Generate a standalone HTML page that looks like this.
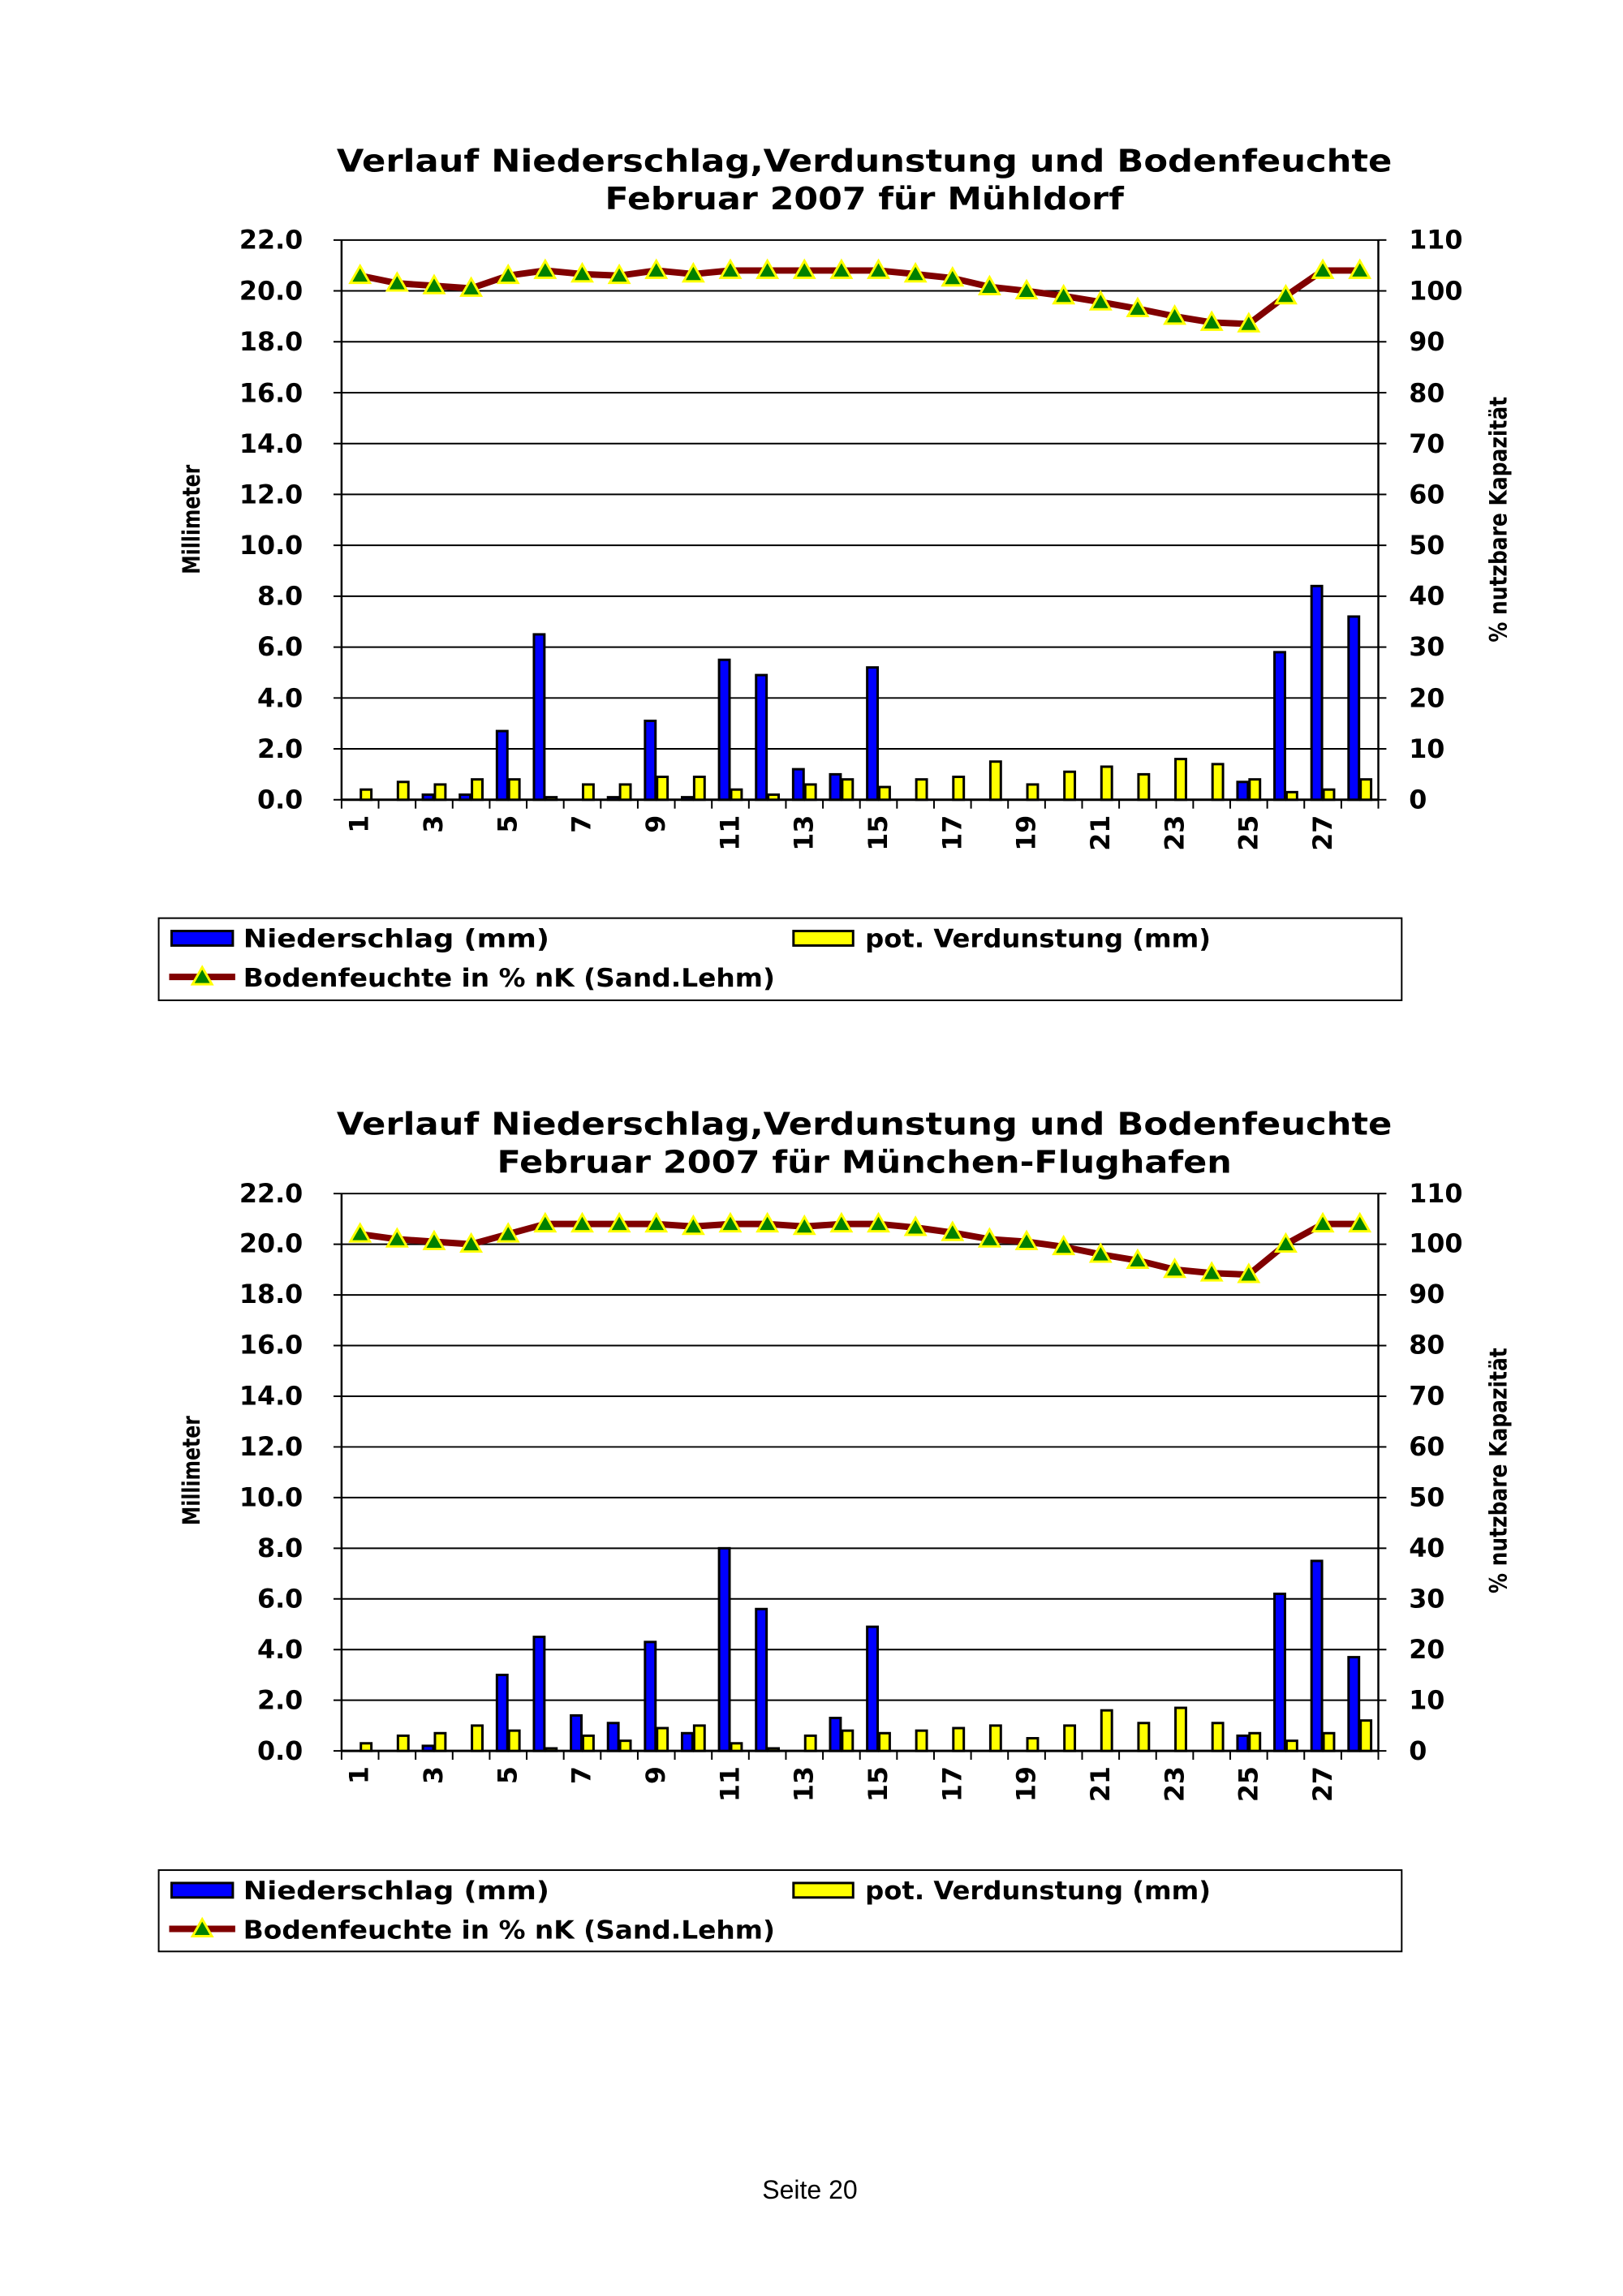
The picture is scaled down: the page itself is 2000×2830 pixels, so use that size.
<!DOCTYPE html>
<html><head><meta charset="utf-8"><style>
html,body{margin:0;padding:0;background:#fff}
svg{display:block}
text{font-family:"DejaVu Sans","Liberation Sans",sans-serif;font-weight:bold;fill:#000}
</style></head><body>
<svg id="s" width="2000" height="2830" viewBox="0 0 2000 2830" xmlns="http://www.w3.org/2000/svg">
<g transform="scale(0.9927)">
<g id="g1"></g>
<!-- Chart 1 text -->
<text x="1073" y="213" font-size="39" text-anchor="middle" textLength="1310" lengthAdjust="spacingAndGlyphs">Verlauf Niederschlag,Verdunstung und Bodenfeuchte</text>
<text x="1073" y="260" font-size="39" text-anchor="middle" textLength="644" lengthAdjust="spacingAndGlyphs">Februar 2007 für Mühldorf</text>
<g font-size="32" text-anchor="end">
<text x="376" y="1004">0.0</text><text x="376" y="941">2.0</text><text x="376" y="878">4.0</text><text x="376" y="814">6.0</text><text x="376" y="751">8.0</text><text x="376" y="688">10.0</text><text x="376" y="625">12.0</text><text x="376" y="562">14.0</text><text x="376" y="499">16.0</text><text x="376" y="435">18.0</text><text x="376" y="372">20.0</text><text x="376" y="309">22.0</text>
</g>
<g font-size="32" text-anchor="start">
<text x="1749" y="1004">0</text><text x="1749" y="941">10</text><text x="1749" y="878">20</text><text x="1749" y="814">30</text><text x="1749" y="751">40</text><text x="1749" y="688">50</text><text x="1749" y="625">60</text><text x="1749" y="562">70</text><text x="1749" y="499">80</text><text x="1749" y="435">90</text><text x="1749" y="372">100</text><text x="1749" y="309">110</text>
</g>
<text transform="translate(248,645) rotate(-90)" font-size="30" text-anchor="middle" textLength="136" lengthAdjust="spacingAndGlyphs">Millimeter</text>
<text transform="translate(1870,645) rotate(-90)" font-size="30" text-anchor="middle" textLength="305" lengthAdjust="spacingAndGlyphs">% nutzbare Kapazität</text>
<g font-size="32" text-anchor="end">
<text transform="translate(457,1012) rotate(-90)">1</text>
<text transform="translate(549,1012) rotate(-90)">3</text>
<text transform="translate(641,1012) rotate(-90)">5</text>
<text transform="translate(733,1012) rotate(-90)">7</text>
<text transform="translate(825,1012) rotate(-90)">9</text>
<text transform="translate(917,1012) rotate(-90)">11</text>
<text transform="translate(1009,1012) rotate(-90)">13</text>
<text transform="translate(1101,1012) rotate(-90)">15</text>
<text transform="translate(1193,1012) rotate(-90)">17</text>
<text transform="translate(1285,1012) rotate(-90)">19</text>
<text transform="translate(1377,1012) rotate(-90)">21</text>
<text transform="translate(1469,1012) rotate(-90)">23</text>
<text transform="translate(1561,1012) rotate(-90)">25</text>
<text transform="translate(1653,1012) rotate(-90)">27</text>
</g>
<rect x="197" y="1140" width="1543" height="102" fill="none" stroke="#000" stroke-width="2"/>
<rect x="213" y="1156" width="76" height="18" fill="#0000ff" stroke="#000" stroke-width="3"/>
<text x="302" y="1176" font-size="31" textLength="380" lengthAdjust="spacingAndGlyphs">Niederschlag (mm)</text>
<rect x="985" y="1156" width="74" height="18" fill="#ffff00" stroke="#000" stroke-width="3"/>
<text x="1074" y="1176" font-size="31" textLength="429" lengthAdjust="spacingAndGlyphs">pot. Verdunstung (mm)</text>
<line x1="210" y1="1213" x2="292" y2="1213" stroke="#800000" stroke-width="8"/>
<polygon points="251,1201 263,1222 239,1222" fill="#008000" stroke="#ffff00" stroke-width="3"/>
<text x="302" y="1225" font-size="31" textLength="660" lengthAdjust="spacingAndGlyphs">Bodenfeuchte in % nK (Sand.Lehm)</text>

<!-- Chart 2 text -->
<text x="1073" y="1409" font-size="39" text-anchor="middle" textLength="1310" lengthAdjust="spacingAndGlyphs">Verlauf Niederschlag,Verdunstung und Bodenfeuchte</text>
<text x="1073" y="1456" font-size="39" text-anchor="middle" textLength="912" lengthAdjust="spacingAndGlyphs">Februar 2007 für München-Flughafen</text>
<g font-size="32" text-anchor="end">
<text x="376" y="2185">0.0</text><text x="376" y="2122">2.0</text><text x="376" y="2059">4.0</text><text x="376" y="1996">6.0</text><text x="376" y="1933">8.0</text><text x="376" y="1870">10.0</text><text x="376" y="1807">12.0</text><text x="376" y="1744">14.0</text><text x="376" y="1681">16.0</text><text x="376" y="1618">18.0</text><text x="376" y="1555">20.0</text><text x="376" y="1493">22.0</text>
</g>
<g font-size="32" text-anchor="start">
<text x="1749" y="2185">0</text><text x="1749" y="2122">10</text><text x="1749" y="2059">20</text><text x="1749" y="1996">30</text><text x="1749" y="1933">40</text><text x="1749" y="1870">50</text><text x="1749" y="1807">60</text><text x="1749" y="1744">70</text><text x="1749" y="1681">80</text><text x="1749" y="1618">90</text><text x="1749" y="1555">100</text><text x="1749" y="1493">110</text>
</g>
<text transform="translate(248,1826) rotate(-90)" font-size="30" text-anchor="middle" textLength="136" lengthAdjust="spacingAndGlyphs">Millimeter</text>
<text transform="translate(1870,1826) rotate(-90)" font-size="30" text-anchor="middle" textLength="305" lengthAdjust="spacingAndGlyphs">% nutzbare Kapazität</text>
<g font-size="32" text-anchor="end">
<text transform="translate(457,2193) rotate(-90)">1</text>
<text transform="translate(549,2193) rotate(-90)">3</text>
<text transform="translate(641,2193) rotate(-90)">5</text>
<text transform="translate(733,2193) rotate(-90)">7</text>
<text transform="translate(825,2193) rotate(-90)">9</text>
<text transform="translate(917,2193) rotate(-90)">11</text>
<text transform="translate(1009,2193) rotate(-90)">13</text>
<text transform="translate(1101,2193) rotate(-90)">15</text>
<text transform="translate(1193,2193) rotate(-90)">17</text>
<text transform="translate(1285,2193) rotate(-90)">19</text>
<text transform="translate(1377,2193) rotate(-90)">21</text>
<text transform="translate(1469,2193) rotate(-90)">23</text>
<text transform="translate(1561,2193) rotate(-90)">25</text>
<text transform="translate(1653,2193) rotate(-90)">27</text>
</g>
<rect x="197" y="2322" width="1543" height="101" fill="none" stroke="#000" stroke-width="2"/>
<rect x="213" y="2338" width="76" height="18" fill="#0000ff" stroke="#000" stroke-width="3"/>
<text x="302" y="2358" font-size="31" textLength="380" lengthAdjust="spacingAndGlyphs">Niederschlag (mm)</text>
<rect x="985" y="2338" width="74" height="18" fill="#ffff00" stroke="#000" stroke-width="3"/>
<text x="1074" y="2358" font-size="31" textLength="429" lengthAdjust="spacingAndGlyphs">pot. Verdunstung (mm)</text>
<line x1="210" y1="2395" x2="292" y2="2395" stroke="#800000" stroke-width="8"/>
<polygon points="251,2383 263,2404 239,2404" fill="#008000" stroke="#ffff00" stroke-width="3"/>
<text x="302" y="2407" font-size="31" textLength="660" lengthAdjust="spacingAndGlyphs">Bodenfeuchte in % nK (Sand.Lehm)</text>
</g>
<text x="998" y="2710" font-size="32" style="font-weight:normal;font-family:'Liberation Sans',sans-serif" text-anchor="middle">Seite 20</text>
</svg>
<script>
var NS="http://www.w3.org/2000/svg",G=document.getElementById("g1");
function el(t,a){var e=document.createElementNS(NS,t);for(var k in a)e.setAttribute(k,a[k]);G.appendChild(e);return e;}
function chart(top,bot,N,V,B){
 var L=424,R=1711,W=(R-L)/28,sc=(bot-top)/22;
 for(var i=0;i<=11;i++){var y=bot-i*2*sc;el("line",{x1:L-10,y1:y,x2:R,y2:y,stroke:"#000","stroke-width":2});el("line",{x1:R,y1:y,x2:R+10,y2:y,stroke:"#000","stroke-width":2});}
 el("line",{x1:L,y1:top,x2:L,y2:bot,stroke:"#000","stroke-width":2.5});
 el("line",{x1:R,y1:top,x2:R,y2:bot,stroke:"#000","stroke-width":2.5});
 el("line",{x1:L,y1:bot,x2:R,y2:bot,stroke:"#000","stroke-width":3});
 for(var i=0;i<=28;i++){var x=L+i*W;el("line",{x1:x,y1:bot,x2:x,y2:bot+11,stroke:"#000","stroke-width":2});}
 for(var d=0;d<28;d++){var c=L+(d+0.5)*W;
  if(N[d]>0){var h=N[d]*sc;el("rect",{x:c-14,y:bot-h,width:13,height:h,fill:"#0000ff",stroke:"#000","stroke-width":3});}
  if(V[d]>0){var h=V[d]*sc;el("rect",{x:c+1,y:bot-h,width:13,height:h,fill:"#ffff00",stroke:"#000","stroke-width":3});}
 }
 var pts=[];for(var d=0;d<28;d++){pts.push((L+(d+0.5)*W)+","+(bot-B[d]*sc/5));}
 el("polyline",{points:pts.join(" "),fill:"none",stroke:"#800000","stroke-width":8,"stroke-linejoin":"round"});
 for(var d=0;d<28;d++){var x=L+(d+0.5)*W,y=bot-B[d]*sc/5;
  el("polygon",{points:x+","+(y-12)+" "+(x+12)+","+(y+9)+" "+(x-12)+","+(y+9),fill:"#008000",stroke:"#ffff00","stroke-width":3});}
}
chart(298,993,
[0,0,0.2,0.2,2.7,6.5,0,0.1,3.1,0.1,5.5,4.9,1.2,1.0,5.2,0,0,0,0,0,0,0,0,0,0.7,5.8,8.4,7.2],
[0.4,0.7,0.6,0.8,0.8,0.1,0.6,0.6,0.9,0.9,0.4,0.2,0.6,0.8,0.5,0.8,0.9,1.5,0.6,1.1,1.3,1.0,1.6,1.4,0.8,0.3,0.4,0.8],
[103,101.5,101,100.5,103,104,103.3,103,104,103.3,104,104,104,104,104,103.3,102.5,100.8,100,99,97.8,96.5,95,93.8,93.5,99,104,104]);
chart(1482,2174,
[0,0,0.2,0,3.0,4.5,1.4,1.1,4.3,0.7,8.0,5.6,0,1.3,4.9,0,0,0,0,0,0,0,0,0,0.6,6.2,7.5,3.7],
[0.3,0.6,0.7,1.0,0.8,0.1,0.6,0.4,0.9,1.0,0.3,0.1,0.6,0.8,0.7,0.8,0.9,1.0,0.5,1.0,1.6,1.1,1.7,1.1,0.7,0.4,0.7,1.2],
[102,101,100.5,100,102,104,104,104,104,103.5,104,104,103.5,104,104,103.3,102.3,101,100.5,99.5,98,96.8,95,94.3,94,100,104,104]);
</script>
</body></html>
